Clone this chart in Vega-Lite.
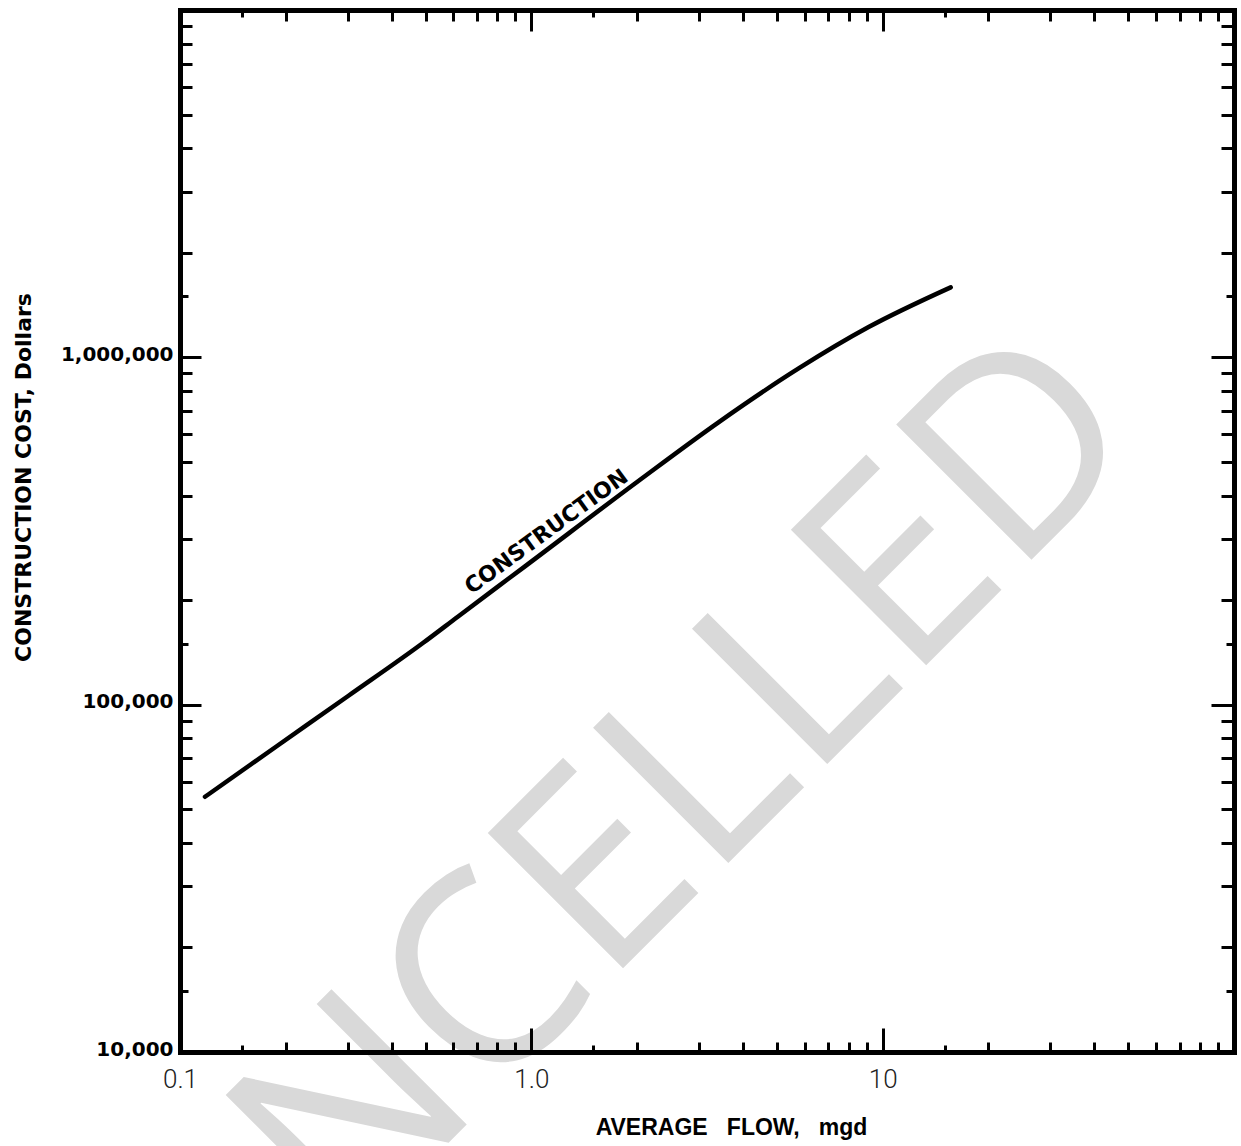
{
  "$schema": "https://vega.github.io/schema/vega-lite/v6.json",
  "width": 1054,
  "height": 1042,
  "autosize": {"type": "none"},
  "padding": {"left": 180, "top": 10, "right": 7, "bottom": 94},
  "background": "white",
  "config": {"view": {"stroke": null}, "axis": {"grid": false}},
  "datasets": {
    "curve": [
      {"flow": 0.1178, "cost": 54300},
      {"flow": 0.1902, "cost": 76400},
      {"flow": 0.301, "cost": 105900},
      {"flow": 0.4924, "cost": 150700},
      {"flow": 0.619, "cost": 179500},
      {"flow": 0.9614, "cost": 250600},
      {"flow": 2.017, "cost": 440600},
      {"flow": 3.41, "cost": 650100},
      {"flow": 5.765, "cost": 929000},
      {"flow": 9.12, "cost": 1222000},
      {"flow": 15.62, "cost": 1590000}
    ],
    "label": [{"flow": 1.104, "cost": 315000, "text": "CONSTRUCTION"}],
    "stamp": [{"flow": 1.291, "cost": 26000, "text": "CANCELLED"}]
  },
  "layer": [
    {
      "data": {"name": "stamp"},
      "mark": {"type": "text", "font": "Open Sans", "fontWeight": 400, "fontSize": 268, "angle": -45, "color": "#d9d9d9", "align": "center", "baseline": "middle"},
      "encoding": {
        "x": {"field": "flow", "type": "quantitative",
          "scale": {"type": "log", "domain": [0.1, 100], "nice": false},
          "axis": {
            "orient": "bottom", "zindex": 1, "grid": false,
            "values": [0.1,0.15,0.2,0.3,0.4,0.5,0.6,0.7,0.8,0.9,1,1.5,2,3,4,5,6,7,8,9,10,15,20,30,40,50,60,70,80,90,100],
            "domainColor": "black", "domainWidth": 5, "domainCap": "square",
            "tickColor": "black", "tickWidth": 3,
            "tickSize": {"condition": [{"test": "indexof([0.1,1,10,100], datum.value) >= 0", "value": -24}, {"test": "indexof([0.15,1.5,15], datum.value) >= 0", "value": -7}], "value": -10},
            "labelExpr": "datum.value == 0.1 ? '0.1' : datum.value == 1 ? '1.0' : datum.value == 10 ? '10' : ''",
            "labelFont": "Roboto", "labelFontWeight": 300, "labelFontSize": 26, "labelColor": "#222",
            "labelPadding": 38, "labelBaseline": "top", "labelOverlap": false, "labelFlush": false, "labelBound": false,
            "title": "AVERAGE \u00a0 FLOW, \u00a0 mgd",
            "titleFont": "Liberation Sans", "titleFontWeight": "bold", "titleFontSize": 23, "titleColor": "black",
            "titleX": 551, "titleY": 82, "titleBaseline": "alphabetic", "titleAlign": "center", "titleAnchor": null
          }
        },
        "y": {"field": "cost", "type": "quantitative",
          "scale": {"type": "log", "domain": [10000, 10000000], "nice": false},
          "axis": {
            "orient": "left", "zindex": 1, "grid": false,
            "values": [10000,15000,20000,30000,40000,50000,60000,70000,80000,90000,100000,150000,200000,300000,400000,500000,600000,700000,800000,900000,1000000,1500000,2000000,3000000,4000000,5000000,6000000,7000000,8000000,9000000,10000000],
            "domainColor": "black", "domainWidth": 5, "domainCap": "square",
            "tickColor": "black", "tickWidth": 3,
            "tickSize": {"condition": [{"test": "indexof([10000,100000,1000000,10000000], datum.value) >= 0", "value": -21}, {"test": "indexof([15000,150000,1500000], datum.value) >= 0", "value": -8}], "value": -12},
            "labelExpr": "indexof([10000,100000,1000000], datum.value) >= 0 ? format(datum.value, ',') : ''",
            "labelFont": "DejaVu Sans", "labelFontWeight": "bold", "labelFontSize": 20, "labelColor": "black",
            "labelPadding": 28, "labelBaseline": "middle", "labelOffset": -3, "labelOverlap": false, "labelFlush": false, "labelBound": false,
            "title": "CONSTRUCTION COST, Dollars",
            "titleFont": "DejaVu Sans", "titleFontWeight": "bold", "titleFontSize": 22, "titleColor": "black",
            "titleAngle": 270, "titleX": -157, "titleY": 467, "titleBaseline": "middle", "titleAlign": "center", "titleAnchor": null
          }
        },
        "text": {"field": "text"}
      }
    },
    {
      "data": {"name": "curve"},
      "mark": {"type": "line", "stroke": "black", "strokeWidth": 4.5, "strokeCap": "round", "interpolate": "monotone"},
      "encoding": {
        "x": {"field": "flow", "type": "quantitative",
          "scale": {"type": "log", "domain": [0.1, 100], "nice": false},
          "axis": {
            "orient": "top", "zindex": 1, "title": null, "labels": false, "grid": false,
            "values": [0.1,0.15,0.2,0.3,0.4,0.5,0.6,0.7,0.8,0.9,1,1.5,2,3,4,5,6,7,8,9,10,15,20,30,40,50,60,70,80,90,100],
            "domainColor": "black", "domainWidth": 5, "domainCap": "square",
            "tickColor": "black", "tickWidth": 3,
            "tickSize": {"condition": [{"test": "indexof([0.1,1,10,100], datum.value) >= 0", "value": -21}, {"test": "indexof([0.15,1.5,15], datum.value) >= 0", "value": -7}], "value": -11}
          }
        },
        "y": {"field": "cost", "type": "quantitative",
          "scale": {"type": "log", "domain": [10000, 10000000], "nice": false},
          "axis": {
            "orient": "right", "zindex": 1, "title": null, "labels": false, "grid": false,
            "values": [10000,15000,20000,30000,40000,50000,60000,70000,80000,90000,100000,150000,200000,300000,400000,500000,600000,700000,800000,900000,1000000,1500000,2000000,3000000,4000000,5000000,6000000,7000000,8000000,9000000,10000000],
            "domainColor": "black", "domainWidth": 5, "domainCap": "square",
            "tickColor": "black", "tickWidth": 3,
            "tickSize": {"condition": [{"test": "indexof([10000,100000,1000000,10000000], datum.value) >= 0", "value": -23}, {"test": "indexof([15000,150000,1500000], datum.value) >= 0", "value": -8}], "value": -13}
          }
        }
      }
    },
    {
      "data": {"name": "label"},
      "mark": {"type": "text", "font": "DejaVu Sans", "fontWeight": "bold", "fontSize": 22, "angle": -36, "color": "black", "align": "center", "baseline": "middle"},
      "encoding": {
        "x": {"field": "flow", "type": "quantitative", "scale": {"type": "log", "domain": [0.1, 100], "nice": false}, "axis": null},
        "y": {"field": "cost", "type": "quantitative", "scale": {"type": "log", "domain": [10000, 10000000], "nice": false}, "axis": null},
        "text": {"field": "text"}
      }
    }
  ],
  "resolve": {"axis": {"x": "independent", "y": "independent"}}
}
